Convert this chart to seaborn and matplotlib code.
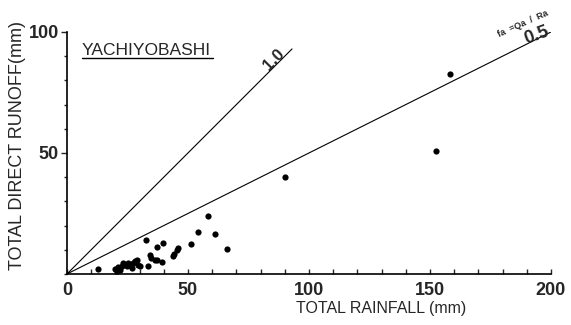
import numpy as np
import pandas as pd
import matplotlib
matplotlib.use("Agg")
import matplotlib.pyplot as plt
from matplotlib.ticker import MultipleLocator
import seaborn as sns

# Event totals: rainfall Ra (mm) and direct runoff Qa (mm)
rainfall = [158.3, 152.5, 90.0, 58.1, 54.3, 61.2, 66.0, 51.2, 45.4, 46.0, 44.2, 43.7,
            32.6, 39.7, 37.2, 34.3, 34.6, 36.4, 37.2, 39.3, 33.3, 12.9,
            19.8, 21.2, 22.6, 23.3, 24.7, 26.0, 27.4, 28.1, 28.8, 29.5, 30.2,
            21.9, 26.7, 20.5, 25.3]
runoff = [82.6, 50.8, 40.0, 24.0, 17.3, 16.5, 10.3, 12.4, 9.9, 10.7, 8.3, 7.4,
          14.0, 12.8, 11.2, 7.9, 6.6, 5.8, 5.8, 5.0, 3.3, 2.1,
          2.1, 2.8, 3.3, 4.4, 3.3, 3.7, 4.4, 5.4, 5.8, 3.7, 3.3,
          1.7, 2.4, 1.4, 4.7]

# Runoff ratio reference lines fa = Qa / Ra and how far each is drawn
ratios = [1.0, 0.5]
ratio_labels = ["1.0", "0.5"]
ratio_x_end = [93, 200]

events = pd.DataFrame({"rain": rainfall, "runoff": runoff})

sns.set_theme(style="white")
plt.rcParams["font.family"] = ["Liberation Sans", "DejaVu Sans"]
narrow = ["Liberation Sans Narrow", "Liberation Sans", "DejaVu Sans"]

fig = plt.figure(figsize=(5.71, 3.25), dpi=100)
ax = fig.add_axes([0.1173, 0.157, 0.8476, 0.7446])

for r, xe in zip(ratios, ratio_x_end):
    line = pd.DataFrame({"x": [0, xe], "y": [0, r * xe]})
    sns.lineplot(data=line, x="x", y="y", ax=ax, color="black", linewidth=0.8)

sns.scatterplot(data=events, x="rain", y="runoff", ax=ax, color="black",
                s=20, edgecolor="black", linewidth=0)

# Ratio labels placed along their lines
ax.text(85.5, 88.5, ratio_labels[0], rotation=45, ha="center", va="center",
        fontsize=12, fontweight="bold", rotation_mode="anchor")
ax.text(194, 98.6, ratio_labels[1], rotation=20, ha="center", va="center",
        fontsize=13, fontweight="bold", rotation_mode="anchor")
ax.text(188.5, 103.5, "fa  =Qa  /  Ra", rotation=24, ha="center", va="center",
        fontsize=6.5, fontweight="bold", rotation_mode="anchor")

# Station name, underlined
ax.text(0.031, 0.925, "YACHIYOBASHI", transform=ax.transAxes, fontsize=12.5,
        family=narrow, ha="left", va="center")
ax.plot([0.031, 0.302], [0.893, 0.893], transform=ax.transAxes,
        color="black", linewidth=1.0)

ax.set_xlim(0, 200)
ax.set_ylim(0, 100)
ax.xaxis.set_major_locator(MultipleLocator(50))
ax.xaxis.set_minor_locator(MultipleLocator(10))
ax.yaxis.set_major_locator(MultipleLocator(50))
ax.yaxis.set_minor_locator(MultipleLocator(10))
ax.set_yticks([50, 100])
ax.set_yticklabels(["50", "100"])

ax.tick_params(axis="x", which="both", direction="in", bottom=True, length=3.5,
               width=1, labelsize=13, pad=6)
ax.tick_params(axis="y", which="major", direction="out", left=True, length=4,
               width=1, labelsize=13, pad=2)
ax.tick_params(axis="y", which="minor", direction="out", left=True, length=2,
               width=1)
for lab in ax.get_xticklabels() + ax.get_yticklabels():
    lab.set_fontweight("bold")

for side in ["top", "right"]:
    ax.spines[side].set_visible(False)
for side in ["left", "bottom"]:
    ax.spines[side].set_color("black")
    ax.spines[side].set_linewidth(1.2)

ax.set_xlabel("TOTAL RAINFALL (mm)", fontsize=11.5, family=narrow, labelpad=2)
ax.xaxis.set_label_coords(0.65, -0.11)
ax.set_ylabel("TOTAL DIRECT RUNOFF(mm)", fontsize=13, family=narrow, labelpad=2)
ax.yaxis.set_label_coords(-0.085, 0.53)

fig.savefig("out.png", dpi=100, facecolor="white")
